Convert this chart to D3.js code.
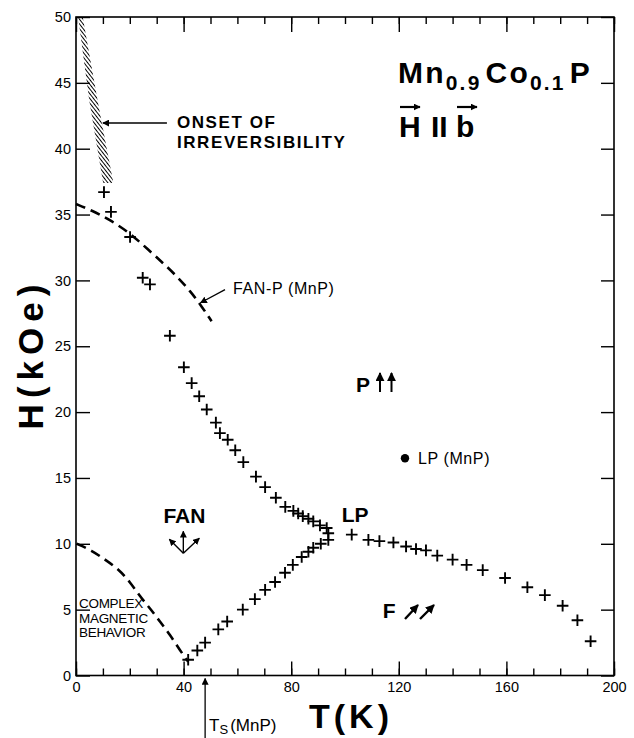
<!DOCTYPE html>
<html>
<head>
<meta charset="utf-8">
<script src="https://cdn.jsdelivr.net/npm/d3@7"></script>
<style>
  html, body { margin: 0; padding: 0; background: #fff; }
  svg { display: block; font-family: "Liberation Sans", Arial, Helvetica, sans-serif; }
</style>
</head>
<body>
<svg id="chart" width="634" height="738"></svg>
<script>
// H–T phase diagram of Mn0.9Co0.1P, field along b

// Transition points (T in K, H in kOe)
const upperT = [10.4, 13.0, 20.1, 24.8, 27.5, 34.9, 40.1, 43.0, 45.8, 48.6, 52.0, 53.5, 56.4, 59.2, 62.2, 66.9, 70.3, 74.3, 77.8, 80.8, 82.6, 84.3, 86.4, 88.2, 90.7, 93.2];
const upperH = [36.7, 35.2, 33.3, 30.2, 29.7, 25.8, 23.4, 22.2, 21.2, 20.2, 19.2, 18.4, 17.9, 17.1, 16.2, 15.1, 14.3, 13.5, 12.8, 12.5, 12.3, 12.1, 11.9, 11.7, 11.4, 11.2];

const lowerT = [41.7, 45.1, 48.0, 52.9, 56.2, 62.0, 66.5, 70.3, 74.0, 77.7, 80.6, 83.9, 86.4, 88.2, 91.0, 93.8, 93.8];
const lowerH = [1.2, 1.9, 2.5, 3.5, 4.1, 5.0, 5.8, 6.5, 7.1, 7.8, 8.4, 9.0, 9.4, 9.7, 10.0, 10.3, 10.8];

const rightT = [102.5, 108.7, 112.8, 118.0, 122.7, 126.4, 130.1, 134.3, 140.0, 145.2, 151.2, 159.5, 167.8, 174.3, 180.9, 186.4, 191.3];
const rightH = [10.7, 10.3, 10.2, 10.1, 9.8, 9.6, 9.5, 9.1, 8.8, 8.4, 8.0, 7.4, 6.7, 6.1, 5.3, 4.2, 2.6];

// FAN-P boundary of MnP (dashed)
const fanPT = [0, 6.0, 12.6, 20.0, 26.5, 33.0, 38.0, 42.4, 46.5, 50.4];
const fanPH = [35.8, 35.3, 34.6, 33.6, 32.4, 31.2, 30.2, 29.2, 28.1, 26.9];

// Low-field boundary of the complex region (dashed)
const lowT = [0.3, 5.8, 10.8, 15.7, 20.1, 23.8, 27.5, 31.2, 34.9, 38.7, 41.7];
const lowH = [10.0, 9.5, 8.8, 8.1, 7.1, 6.0, 5.1, 4.1, 3.1, 1.9, 1.05];

// Onset of irreversibility band
const bandT = [0.8, 4.9, 10.1, 13.9, 8.0, 2.5];
const bandH = [50.0, 43.7, 37.4, 37.4, 43.7, 50.0];

// Lifshitz point of MnP
const lpMnP = { T: 122.3, H: 16.5 };
// Spiral transition temperature of MnP
const tsMnP = 48;

// Axis ticks
const xMajorTicks = [0, 40, 80, 120, 160, 200];
const xMinorTicks = d3.range(0, 201, 10);
const yTicks = [0, 5, 10, 15, 20, 25, 30, 35, 40, 45, 50];

const W = 634, H = 738;
const margin = { left: 76, right: 20, top: 17, bottom: 62.5 };
const svg = d3.select("#chart");

const x = d3.scaleLinear().domain([0, 200]).range([margin.left, W - margin.right]);
const y = d3.scaleLinear().domain([0, 50]).range([H - margin.bottom, margin.top]);

const defs = svg.append("defs");
defs.append("marker")
  .attr("id", "head")
  .attr("viewBox", "0 0 10 10")
  .attr("refX", 9).attr("refY", 5)
  .attr("markerWidth", 7).attr("markerHeight", 7)
  .attr("markerUnits", "userSpaceOnUse")
  .attr("orient", "auto")
  .append("path").attr("d", "M0,0L10,5L0,10z").attr("fill", "#000");
defs.append("marker")
  .attr("id", "headBig")
  .attr("viewBox", "0 0 10 10")
  .attr("refX", 9).attr("refY", 5)
  .attr("markerWidth", 9).attr("markerHeight", 9)
  .attr("markerUnits", "userSpaceOnUse")
  .attr("orient", "auto")
  .append("path").attr("d", "M0,0L10,5L0,10z").attr("fill", "#000");

const hatch = defs.append("pattern")
  .attr("id", "hatch")
  .attr("patternUnits", "userSpaceOnUse")
  .attr("width", 2.9).attr("height", 10)
  .attr("patternTransform", "rotate(-38)");
hatch.append("line")
  .attr("x1", 1.45).attr("y1", 0).attr("x2", 1.45).attr("y2", 10)
  .attr("stroke", "#000").attr("stroke-width", 1.0);

// Frame
svg.append("rect")
  .attr("x", x(0)).attr("y", y(50))
  .attr("width", x(200) - x(0)).attr("height", y(0) - y(50))
  .attr("fill", "none").attr("stroke", "#000").attr("stroke-width", 1.6);

function styleAxis(g) {
  g.select(".domain").remove();
  g.selectAll(".tick line").attr("stroke", "#000").attr("stroke-width", 1.4);
  g.selectAll("text").attr("fill", "#000").attr("font-size", 14.5).attr("font-family", "Liberation Sans, Arial, sans-serif");
}

// Bottom axis
svg.append("g").attr("transform", `translate(0,${y(0)})`)
  .call(d3.axisBottom(x).tickValues(xMinorTicks).tickSizeInner(-7).tickSizeOuter(0).tickFormat(""))
  .call(styleAxis);
svg.append("g").attr("transform", `translate(0,${y(0)})`)
  .call(d3.axisBottom(x).tickValues(xMajorTicks).tickSizeInner(-14).tickSizeOuter(0).tickPadding(6).tickFormat(d3.format("d")))
  .call(styleAxis);
// Top axis
svg.append("g").attr("transform", `translate(0,${y(50)})`)
  .call(d3.axisTop(x).tickValues(xMinorTicks).tickSizeInner(-7).tickSizeOuter(0).tickFormat(""))
  .call(styleAxis);
svg.append("g").attr("transform", `translate(0,${y(50)})`)
  .call(d3.axisTop(x).tickValues(xMajorTicks).tickSizeInner(-15).tickSizeOuter(0).tickFormat(""))
  .call(styleAxis);
// Left axis
svg.append("g").attr("transform", `translate(${x(0)},0)`)
  .call(d3.axisLeft(y).tickValues(yTicks).tickSizeInner(-14).tickSizeOuter(0).tickPadding(5).tickFormat(d3.format("d")))
  .call(styleAxis);
// Right axis
svg.append("g").attr("transform", `translate(${x(200)},0)`)
  .call(d3.axisRight(y).tickValues(yTicks).tickSizeInner(-13).tickSizeOuter(0).tickFormat(""))
  .call(styleAxis);

// Axis titles
svg.append("text")
  .attr("transform", `translate(43,${354}) rotate(-90)`)
  .attr("text-anchor", "middle")
  .attr("font-size", 35).attr("font-weight", "bold").attr("letter-spacing", 6)
  .text("H(kOe)");
svg.append("text")
  .attr("x", 351).attr("y", 728)
  .attr("text-anchor", "middle")
  .attr("font-size", 34).attr("font-weight", "bold").attr("letter-spacing", 4)
  .text("T(K)");

// Irreversibility band
svg.append("path")
  .datum(d3.zip(bandT, bandH))
  .attr("d", d3.line().x(d => x(d[0])).y(d => y(d[1])).curve(d3.curveLinearClosed))
  .attr("fill", "url(#hatch)").attr("stroke", "none");

// Dashed boundaries
const line = d3.line().x(d => x(d[0])).y(d => y(d[1])).curve(d3.curveBasis);
[[fanPT, fanPH], [lowT, lowH]].forEach(([t, h]) => {
  svg.append("path")
    .datum(d3.zip(t, h))
    .attr("d", line)
    .attr("fill", "none").attr("stroke", "#000")
    .attr("stroke-width", 2.6).attr("stroke-dasharray", "10,6");
});

// Transition points
const plus = "M-5.8,0H5.8M0,-5.8V5.8";
const pts = [].concat(
  d3.zip(upperT, upperH),
  d3.zip(lowerT, lowerH),
  d3.zip(rightT, rightH)
);
svg.append("g").selectAll("path").data(pts).join("path")
  .attr("transform", d => `translate(${x(d[0])},${y(d[1])})`)
  .attr("d", plus)
  .attr("stroke", "#000").attr("stroke-width", 1.9).attr("fill", "none");

// Onset of irreversibility label
svg.append("line")
  .attr("x1", x(33.8)).attr("y1", y(41.95)).attr("x2", x(10.0)).attr("y2", y(41.95))
  .attr("stroke", "#000").attr("stroke-width", 1.3).attr("marker-end", "url(#head)");
const onset = svg.append("g").attr("font-size", 17).attr("font-weight", "bold").attr("letter-spacing", 1.6);
onset.append("text").attr("x", x(37.5)).attr("y", y(41.6)).text("ONSET OF");
onset.append("text").attr("x", x(37.5)).attr("y", y(40.05)).text("IRREVERSIBILITY");

// FAN-P (MnP) label
svg.append("line")
  .attr("x1", x(55.4)).attr("y1", y(29.3)).attr("x2", x(46.3)).attr("y2", y(28.3))
  .attr("stroke", "#000").attr("stroke-width", 1.3).attr("marker-end", "url(#head)");
svg.append("text").attr("x", x(58.4)).attr("y", y(28.95))
  .attr("font-size", 16).attr("letter-spacing", 0.6).text("FAN-P (MnP)");

// Compound title
const title = svg.append("text").attr("x", 398).attr("y", 83)
  .attr("font-size", 30).attr("font-weight", "bold").attr("letter-spacing", 2.2);
title.append("tspan").text("Mn");
title.append("tspan").attr("dy", 7).attr("font-size", 21).text("0.9");
title.append("tspan").attr("dy", -7).attr("dx", 4).text("Co");
title.append("tspan").attr("dy", 7).attr("font-size", 21).text("0.1");
title.append("tspan").attr("dy", -7).attr("dx", 4).text("P");

// Field direction: H || b with vector arrows
const fd = svg.append("g").attr("font-size", 30).attr("font-weight", "bold");
fd.append("text").attr("x", 399).attr("y", 137).text("H");
fd.append("text").attr("x", 431).attr("y", 137).text("II");
fd.append("text").attr("x", 456).attr("y", 137).text("b");
[[400, 420], [457, 477]].forEach(([a, b]) => {
  svg.append("line").attr("x1", a).attr("y1", 107).attr("x2", b).attr("y2", 107)
    .attr("stroke", "#000").attr("stroke-width", 2.2).attr("marker-end", "url(#head)");
});

// Phase labels
function label(t, h, s) {
  return svg.append("text").attr("x", x(t)).attr("y", y(h))
    .attr("font-size", 21).attr("font-weight", "bold").text(s);
}
label(104.1, 21.5, "P");
[[380, 392], [391.5, 392]].forEach(([px, py]) => {
  svg.append("line").attr("x1", px).attr("y1", py).attr("x2", px).attr("y2", 373)
    .attr("stroke", "#000").attr("stroke-width", 2).attr("marker-end", "url(#headBig)");
});

label(98.8, 11.65, "LP");
label(114.0, 4.37, "F");
[[405, 619, 418, 605], [420, 619, 434, 605]].forEach(([a, b, c, d]) => {
  svg.append("line").attr("x1", a).attr("y1", b).attr("x2", c).attr("y2", d)
    .attr("stroke", "#000").attr("stroke-width", 2.4).attr("marker-end", "url(#headBig)");
});

label(40.3, 11.6, "FAN").attr("text-anchor", "middle");
const fo = [x(39.9), y(9.28)];
[[0, -22], [-14, -14], [16, -15]].forEach(([dx, dy]) => {
  svg.append("line").attr("x1", fo[0]).attr("y1", fo[1]).attr("x2", fo[0] + dx).attr("y2", fo[1] + dy)
    .attr("stroke", "#000").attr("stroke-width", 1.4).attr("marker-end", "url(#head)");
});

// Complex magnetic behavior
const cm = svg.append("g").attr("font-size", 13.5).attr("letter-spacing", -0.3);
["COMPLEX", "MAGNETIC", "BEHAVIOR"].forEach((s, i) => {
  cm.append("text").attr("x", x(0) + 3).attr("y", 608 + i * 14.5).text(s);
});

// Lifshitz point of MnP
svg.append("circle").attr("cx", x(lpMnP.T)).attr("cy", y(lpMnP.H)).attr("r", 4.2).attr("fill", "#000");
svg.append("text").attr("x", x(lpMnP.T) + 13).attr("y", y(lpMnP.H) + 6)
  .attr("font-size", 16).attr("letter-spacing", 0.6).text("LP (MnP)");

// Ts of MnP
svg.append("line")
  .attr("x1", x(tsMnP)).attr("y1", H).attr("x2", x(tsMnP)).attr("y2", y(0) + 3)
  .attr("stroke", "#000").attr("stroke-width", 1.3).attr("marker-end", "url(#head)");
const ts = svg.append("text").attr("x", x(tsMnP) + 4).attr("y", 731).attr("font-size", 17);
ts.append("tspan").text("T");
ts.append("tspan").attr("dy", 3).attr("font-size", 13).text("S");
ts.append("tspan").attr("dy", -3).attr("dx", 2).text("(MnP)");
</script>
</body>
</html>
